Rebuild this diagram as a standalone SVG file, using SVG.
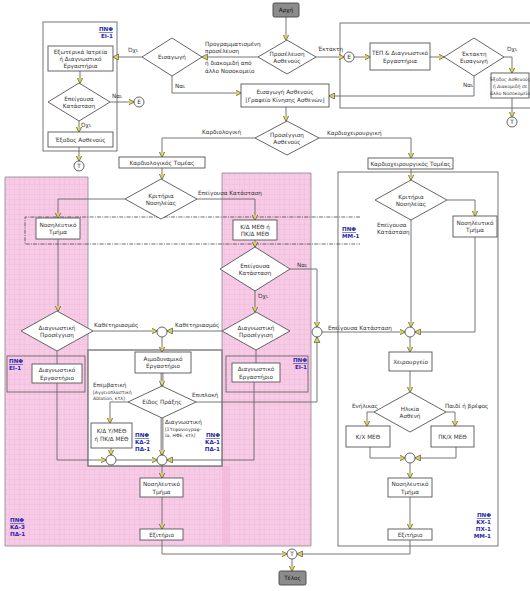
<svg xmlns="http://www.w3.org/2000/svg" width="530" height="591" viewBox="0 0 530 591">
<style>
.n{fill:#fff;stroke:#555;stroke-width:0.9}
.box{fill:none;stroke:#666;stroke-width:0.9}
.t{font-family:"DejaVu Sans",Verdana,sans-serif;font-size:5.7px;fill:#333;text-anchor:middle}
.l{font-family:"DejaVu Sans",Verdana,sans-serif;font-size:5.7px;fill:#333}
.s{font-family:"DejaVu Sans",Verdana,sans-serif;font-size:4.6px;fill:#333;text-anchor:middle}
.p{font-family:"DejaVu Sans",Verdana,sans-serif;font-size:5.6px;font-weight:bold;fill:#2a2aa8}
.u{text-decoration:underline}
.c path{fill:none;stroke:#666;stroke-width:0.9;marker-end:url(#ar)}
.c path.nm{marker-end:none}
.c path.dbl{stroke:#777;stroke-width:2.8}
.c path.dblw{stroke:#ddd;stroke-width:0.9;marker-end:none}
.ci{fill:#fff;stroke:#555;stroke-width:0.9}
.term{fill:#8c8c8c;stroke:#444;stroke-width:0.9}
</style>
<defs>
<marker id="ar" markerUnits="userSpaceOnUse" markerWidth="7" markerHeight="7" refX="5.5" refY="3" orient="auto">
<path d="M0,0 L6,3 L0,6 z" fill="#d6cf58" stroke="#444" stroke-width="0.6"/>
</marker>
<pattern id="grid" width="5" height="5" patternUnits="userSpaceOnUse">
<rect width="5" height="5" fill="#f7cbe5"/>
<path d="M5 0V5M0 5H5" stroke="#eaaad2" stroke-width="0.5"/>
</pattern>
</defs>
<rect width="530" height="591" fill="#fff"/>

<g id="backgrounds">
<polygon points="5,177 88,177 88,466 222,466 222,173 311,173 311,546 5,546" fill="url(#grid)" stroke="#888" stroke-width="0.8"/>
<rect x="222" y="466" width="8" height="80" fill="#f2b4d8" opacity="0.6"/>
<rect class="box" x="43" y="22" width="74" height="129"/>
<rect class="box" x="340" y="23" width="200" height="85"/>
<rect class="box" x="338" y="172" width="160" height="374"/>
<rect x="88" y="350" width="134" height="116" fill="#fff" stroke="#7a7a7a" stroke-width="1.4"/>
<rect class="box" x="7" y="356" width="78" height="36"/>
<rect class="box" x="226" y="356" width="82" height="36"/>
<path d="M360,217 H25 V244 H360" fill="none" stroke="#444" stroke-width="0.8" stroke-dasharray="4,1.2,1,1.2"/>
</g>

<g id="connectors" class="c">
<path d="M286,17 V40"/>
<path d="M258,57 H202"/>
<path d="M316,57 H344"/>
<path d="M354,57 H370"/>
<path d="M430,57 H444"/>
<path d="M504,57 H512 V73"/>
<path d="M474,76 V96 H329"/>
<path d="M512,98 V117"/>
<path d="M142,57 H113"/>
<path d="M172,76 V93 H241"/>
<path d="M80,71 V83"/>
<path d="M110,102 H134"/>
<path d="M79,121 V132"/>
<path d="M79,147 V161"/>
<path d="M286,107 V121"/>
<path d="M255,138 H162 V157"/>
<path d="M319,138 H411 V158"/>
<path d="M162,168 V179"/>
<path d="M125,199 H58 V218"/>
<path d="M197,199 H255 V220"/>
<path d="M58,239 V311"/>
<path d="M255,240 V247"/>
<path d="M290,269 H317 V327"/>
<path d="M255,291 V312"/>
<path d="M93,331 H157"/>
<path d="M222,331 H167"/>
<path d="M162,337 V352"/>
<path class="dbl" d="M162,373 V386"/>
<path class="dblw" d="M162,373 V384"/>
<path d="M128,402 H110 V423"/>
<path class="dbl" d="M162,418 V455"/>
<path class="dblw" d="M162,418 V453"/>
<path d="M196,402 H317 V337"/>
<path class="nm" d="M57,351 V364"/>
<path d="M57,383 V460 H106"/>
<path d="M111,448 V455"/>
<path d="M116,460 H157"/>
<path class="nm" d="M256,350 V363"/>
<path d="M254,382 V460 H167"/>
<path d="M162,465 V478"/>
<path d="M162,497 V529"/>
<path d="M162,540 V554 H287"/>
<path d="M410,540 V554 H297"/>
<path d="M292,559 V571"/>
<path d="M411,169 V180"/>
<path d="M447,200 H475 V216"/>
<path d="M411,220 V327"/>
<path d="M475,237 V332 H415"/>
<path d="M322,332 H405"/>
<path d="M410,337 V352"/>
<path d="M410,371 V392"/>
<path d="M374,412 H367 V426"/>
<path d="M446,412 H455 V426"/>
<path d="M370,447 V458 H405"/>
<path d="M456,447 V458 H415"/>
<path d="M410,463 V478"/>
<path d="M410,497 V529"/>
</g>

<g id="connector-labels">
<text class="l" x="205" y="46">Προγραμματισμένη</text>
<text class="l" x="205" y="53">προσέλευση</text>
<text class="l" x="205" y="65">ή διακομιδή από</text>
<text class="l" x="205" y="73">άλλο Νοσοκομείο</text>
<text class="l" x="318" y="51">Έκτακτη</text>
<text class="l" x="507" y="51">Όχι</text>
<text class="l" x="463" y="87">Ναι</text>
<text class="l" x="128" y="52">Όχι</text>
<text class="l" x="175" y="88">Ναι</text>
<text class="l" x="112" y="98">Ναι</text>
<text class="l" x="81" y="127">Όχι</text>
<text class="l" x="202" y="134">Καρδιολογική</text>
<text class="l" x="327" y="135">Καρδιοχειρουργική</text>
<text class="l" x="198" y="195">Επείγουσα Κατάσταση</text>
<text class="l" x="297" y="267">Ναι</text>
<text class="l" x="258" y="298">Όχι</text>
<text class="l" x="94" y="327">Καθετηριασμός</text>
<text class="l" x="175" y="327">Καθετηριασμός</text>
<text class="l" x="93" y="387">Επεμβατική</text>
<text class="l" x="93" y="394" style="font-size:4.6px">[Αγγειοπλαστική</text>
<text class="l" x="93" y="400" style="font-size:4.6px">Ablation, κτλ]</text>
<text class="l" x="165" y="424">Διαγνωστική</text>
<text class="l" x="165" y="431" style="font-size:4.6px">[Στεφανιογραφ-</text>
<text class="l" x="165" y="437" style="font-size:4.6px">ία, ΗΦΕ, κτλ]</text>
<text class="l" x="192" y="397">Επιπλοκή</text>
<text class="l" x="377" y="227">Επείγουσα</text>
<text class="l" x="377" y="234">Κατάσταση</text>
<text class="l" x="328" y="330">Επείγουσα Κατάσταση</text>
<text class="l" x="352" y="408">Ενήλικας</text>
<text class="l" x="445" y="408">Παιδί ή βρέφος</text>
</g>

<g id="start"><rect class="term" x="273" y="3" width="26" height="14" rx="1.5"/><text class="t" x="286" y="12.3" style="fill:#111">Αρχή</text></g>
<g id="proselefsi"><polygon class="n" points="287,40 316,57 287,74 258,57"/><text class="t" x="287" y="56">Προσέλευση</text><text class="t" x="287" y="63">Ασθενούς</text></g>
<g id="eisagogi"><polygon class="n" points="172,38 202,57 172,76 142,57"/><text class="t" x="172" y="59">Εισαγωγή</text></g>
<g id="exoterika"><rect class="n" x="48" y="46" width="65" height="25"/><text class="t" x="80.5" y="53.5">Εξωτερικά Ιατρεία</text><text class="t" x="80.5" y="60.5">ή Διαγνωστικό</text><text class="t" x="80.5" y="67.5">Εργαστήρια</text></g>
<g id="epeigousa1"><polygon class="n" points="79,83 110,102 79,121 48,102"/><text class="t" x="79" y="100.5">Επείγουσα</text><text class="t" x="79" y="107.5">Κατάσταση</text></g>
<g id="exodos1"><rect class="n" x="48" y="132" width="65" height="15"/><text class="t" x="80.5" y="141.5">Έξοδος Ασθενούς</text></g>
<g id="circleE1"><circle class="ci" cx="139" cy="102" r="5"/><text class="t" x="139" y="104.2">Ε</text></g>
<g id="circleT1"><circle class="ci" cx="79" cy="166" r="5"/><text class="t" x="79" y="168.2">Τ</text></g>
<g id="pnf-ei1-top"><text class="p u" x="113" y="31" text-anchor="end">ΠΝΦ</text><text class="p" x="113" y="38" text-anchor="end">ΕΙ-1</text></g>
<g id="circleE2"><circle class="ci" cx="349" cy="57" r="5"/><text class="t" x="349" y="59.2">Ε</text></g>
<g id="tep"><rect class="n" x="370" y="43" width="60" height="27"/><text class="t" x="400" y="55">ΤΕΠ &amp; Διαγνωστικό</text><text class="t" x="400" y="63">Εργαστήρια</text></g>
<g id="ektakti"><polygon class="n" points="474,38 504,57 474,76 444,57"/><text class="t" x="474" y="55.5">Έκτακτη</text><text class="t" x="474" y="62.5">Εισαγωγή</text></g>
<g id="exodos2"><rect class="n" x="491" y="73" width="38" height="25"/><text class="s" x="510" y="80.5">Έξοδος Ασθενούς</text><text class="s" x="510" y="87.5">ή Διακομιδή σε</text><text class="s" x="510" y="94.5">άλλο Νοσοκομείο</text></g>
<g id="circleT2"><circle class="ci" cx="512" cy="122" r="5"/><text class="t" x="512" y="124.2">Τ</text></g>
<g id="eisagogi-asthenous"><rect class="n" x="241" y="84" width="88" height="23"/><text class="t" x="285" y="93.5">Εισαγωγή Ασθενούς</text><text class="t" x="285" y="101.5">[Γραφείο Κίνησης Ασθενών]</text></g>
<g id="prosengisi"><polygon class="n" points="287,121 319,138 287,155 255,138"/><text class="t" x="287" y="137">Προσέγγιση</text><text class="t" x="287" y="144">Ασθενούς</text></g>
<g id="kardiologikos"><rect class="n" x="119" y="157" width="86" height="11"/><text class="t" x="162" y="164.8">Καρδιολογικός Τομέας</text></g>
<g id="kardioxeir"><rect class="n" x="368" y="158" width="85" height="11"/><text class="t" x="410.5" y="165.8">Καρδιοχειρουργικός Τομέας</text></g>
<g id="kritiria1"><polygon class="n" points="161,179 197,199 161,219 125,199"/><text class="t" x="161" y="197.5">Κριτήρια</text><text class="t" x="161" y="204.5">Νοσηλείας</text></g>
<g id="nosil1"><rect class="n" x="36" y="218" width="44" height="21"/><text class="t" x="58" y="226.5">Νοσηλευτικό</text><text class="t" x="58" y="234">Τμήμα</text></g>
<g id="kdmeth"><rect class="n" x="233" y="220" width="44" height="20"/><text class="t" x="255" y="228.5">Κ/Δ ΜΕΘ ή</text><text class="t" x="255" y="236">ΠΚ/Δ ΜΕΘ</text></g>
<g id="pnf-mm1"><text class="p u" x="342" y="231">ΠΝΦ</text><text class="p" x="342" y="238">ΜΜ-1</text></g>
<g id="epeigousa2"><polygon class="n" points="255,247 290,269 255,291 220,269"/><text class="t" x="255" y="267.5">Επείγουσα</text><text class="t" x="255" y="274.5">Κατάσταση</text></g>
<g id="diag1"><polygon class="n" points="57,311 93,331 57,351 21,331"/><text class="t" x="57" y="329.5">Διαγνωστική</text><text class="t" x="57" y="336.5">Προσέγγιση</text></g>
<g id="diag2"><polygon class="n" points="256,312 290,331 256,350 222,331"/><text class="t" x="256" y="329.5">Διαγνωστική</text><text class="t" x="256" y="336.5">Προσέγγιση</text></g>
<g id="c1"><circle class="ci" cx="162" cy="332" r="5"/></g>
<g id="c2"><circle class="ci" cx="317" cy="332" r="5"/></g>
<g id="c3"><circle class="ci" cx="410" cy="332" r="5"/></g>
<g id="ergast1"><rect class="n" x="32" y="364" width="50" height="19"/><text class="t" x="57" y="372">Διαγνωστικό</text><text class="t" x="57" y="379.5">Εργαστήριο</text></g>
<g id="pnf-ei1-left"><text class="p u" x="9" y="363">ΠΝΦ</text><text class="p" x="9" y="370">ΕΙ-1</text></g>
<g id="ergast2"><rect class="n" x="232" y="363" width="48" height="19"/><text class="t" x="256" y="371">Διαγνωστικό</text><text class="t" x="256" y="378.5">Εργαστήριο</text></g>
<g id="pnf-ei1-right"><text class="p u" x="307" y="362" text-anchor="end">ΠΝΦ</text><text class="p" x="307" y="369" text-anchor="end">ΕΙ-1</text></g>
<g id="aimodyn"><rect class="n" x="135" y="352" width="56" height="21"/><text class="t" x="163" y="360.5">Αιμοδυναμικό</text><text class="t" x="163" y="368">Εργαστήριο</text></g>
<g id="eidos"><polygon class="n" points="162,386 196,402 162,418 128,402"/><text class="t" x="162" y="404">Είδος Πράξης</text></g>
<g id="kdym"><rect class="n" x="91" y="423" width="41" height="25"/><text class="t" x="111.5" y="433">Κ/Δ Υ/ΜΕΘ</text><text class="t" x="111.5" y="441">ή ΠΚ/Δ ΜΕΘ</text></g>
<g id="pnf-kd2"><text class="p u" x="135" y="437">ΠΝΦ</text><text class="p" x="135" y="444">ΚΔ-2</text><text class="p" x="135" y="451">ΠΔ-1</text></g>
<g id="pnf-kd1"><text class="p u" x="220" y="437" text-anchor="end">ΠΝΦ</text><text class="p" x="220" y="444" text-anchor="end">ΚΔ-1</text><text class="p" x="220" y="451" text-anchor="end">ΠΔ-1</text></g>
<g id="c4"><circle class="ci" cx="111" cy="460" r="5"/></g>
<g id="c5"><circle class="ci" cx="162" cy="460" r="5"/></g>
<g id="nosil2"><rect class="n" x="140" y="478" width="43" height="19"/><text class="t" x="161.5" y="486">Νοσηλευτικό</text><text class="t" x="161.5" y="493.5">Τμήμα</text></g>
<g id="exit1"><rect class="n" x="140" y="529" width="43" height="11"/><text class="t" x="161.5" y="536.8">Εξιτήριο</text></g>
<g id="pnf-kd3"><text class="p u" x="10" y="522">ΠΝΦ</text><text class="p" x="10" y="529">ΚΔ-3</text><text class="p" x="10" y="536">ΠΔ-1</text></g>
<g id="circleT3"><circle class="ci" cx="292" cy="554" r="5"/><text class="t" x="292" y="556.2">Τ</text></g>
<g id="end"><rect class="term" x="279" y="571" width="27" height="14" rx="1.5"/><text class="t" x="292.5" y="580.3" style="fill:#111">Τέλος</text></g>
<g id="kritiria2"><polygon class="n" points="411,180 447,200 411,220 375,200"/><text class="t" x="411" y="198.5">Κριτήρια</text><text class="t" x="411" y="205.5">Νοσηλείας</text></g>
<g id="nosil3"><rect class="n" x="453" y="216" width="44" height="21"/><text class="t" x="475" y="224.5">Νοσηλευτικό</text><text class="t" x="475" y="232">Τμήμα</text></g>
<g id="xeir"><rect class="n" x="389" y="352" width="43" height="19"/><text class="t" x="410.5" y="363.5">Χειρουργείο</text></g>
<g id="ilikia"><polygon class="n" points="410,392 446,412 410,432 374,412"/><text class="t" x="410" y="410.5">Ηλικία</text><text class="t" x="410" y="417.5">Ασθενή</text></g>
<g id="kxmeth"><rect class="n" x="346" y="426" width="44" height="21"/><text class="t" x="368" y="438.5">Κ/Χ ΜΕΘ</text></g>
<g id="pkxmeth"><rect class="n" x="431" y="426" width="43" height="21"/><text class="t" x="452.5" y="438.5">ΠΚ/Χ ΜΕΘ</text></g>
<g id="c6"><circle class="ci" cx="410" cy="458" r="5"/></g>
<g id="nosil4"><rect class="n" x="388" y="478" width="44" height="19"/><text class="t" x="410" y="486">Νοσηλευτικό</text><text class="t" x="410" y="493.5">Τμήμα</text></g>
<g id="exit2"><rect class="n" x="388" y="529" width="44" height="11"/><text class="t" x="410" y="536.8">Εξιτήριο</text></g>
<g id="pnf-kx1"><text class="p u" x="491" y="517" text-anchor="end">ΠΝΦ</text><text class="p" x="491" y="524" text-anchor="end">ΚΧ-1</text><text class="p" x="491" y="531" text-anchor="end">ΠΧ-1</text><text class="p" x="491" y="538" text-anchor="end">ΜΜ-1</text></g>
</svg>
